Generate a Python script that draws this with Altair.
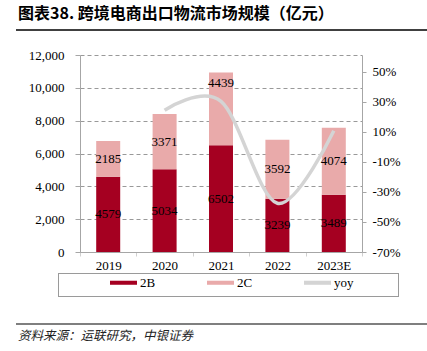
import altair as alt
import pandas as pd

# ---------------- data ----------------
years = ["2019", "2020", "2021", "2022", "2023E"]
b2b = [4579, 5034, 6502, 3239, 3489]
b2c = [2185, 3371, 4439, 3592, 4074]
yoy_years = ["2020", "2021", "2022", "2023E"]
yoy = [0.243, 0.302, -0.376, 0.107]
series_names = ["2B", "2C", "yoy"]
series_colors = ["#A50021", "#E9AAAA", "#D4D4D4"]
left_ticks = [0, 2000, 4000, 6000, 8000, 10000, 12000]
right_ticks = [-0.7, -0.5, -0.3, -0.1, 0.1, 0.3, 0.5]
title_text = "图表38. 跨境电商出口物流市场规模（亿元）"
source_text = "资料来源：运联研究，中银证券"

bars_df = pd.DataFrame({
    "year": years * 2,
    "series": ["2B"] * len(years) + ["2C"] * len(years),
    "value": b2b + b2c,
    "order": [0] * len(years) + [1] * len(years),
})
line_df = pd.DataFrame({"year": yoy_years, "yoy": yoy})
deco_df = pd.DataFrame({"title": [title_text], "source": [source_text]})

SERIF = "Liberation Serif"
AX = "#A6A6A6"

x_enc = alt.X(
    "year:N", sort=years,
    scale=alt.Scale(paddingInner=0, paddingOuter=0),
    axis=alt.Axis(title=None, labelAngle=0, tickBand="extent", tickSize=4,
                  tickColor="#D0D0D0", domainColor=AX, labelFont=SERIF,
                  labelFontSize=13, labelColor="black", labelPadding=3, grid=False),
)
left_scale = alt.Scale(domain=[0, 12000], nice=False)

bars = alt.Chart(bars_df).mark_bar(size=24).encode(
    x=x_enc,
    y=alt.Y("value:Q", stack="zero", scale=left_scale,
            axis=alt.Axis(title=None, orient="left", values=left_ticks,
                          labelExpr="format(datum.value, ',')",
                          grid=True, gridDash=[4, 3], gridColor="#999999",
                          domainColor=AX, tickColor=AX, tickSize=5,
                          labelPadding=11, labelFont=SERIF, labelFontSize=13,
                          labelColor="black")),
    color=alt.Color(
        "series:N",
        scale=alt.Scale(domain=series_names, range=series_colors),
        legend=alt.Legend(
            title=None, orient="none", legendX=30, legendY=214,
            direction="horizontal", columns=3, padding=0,
            symbolType="M-1,-0.15H1V0.15H-1Z", symbolSize=729,
            symbolStrokeWidth=0, labelFont=SERIF, labelFontSize=13,
            labelColor="black", labelOffset=3, columnPadding=51,
        ),
    ),
    order=alt.Order("order:Q"),
)

stacked = alt.Chart(bars_df).transform_stack(
    stack="value", groupby=["year"], as_=["y0", "y1"],
    sort=[alt.SortField("order", order="ascending")],
).transform_calculate(mid="(datum.y0 + datum.y1) / 2")

labels = stacked.transform_filter(
    "!(datum.year == '2021' && datum.series == '2C')"
).mark_text(font=SERIF, fontSize=13, color="black").encode(
    x=x_enc,
    y=alt.Y("mid:Q", scale=left_scale, axis=None),
    text=alt.Text("value:Q", format="d"),
)
label_top = stacked.transform_filter(
    "datum.year == '2021' && datum.series == '2C'"
).mark_text(font=SERIF, fontSize=13, color="black", baseline="top", dy=5).encode(
    x=x_enc,
    y=alt.Y("y1:Q", scale=left_scale, axis=None),
    text=alt.Text("value:Q", format="d"),
)

line = alt.Chart(line_df).mark_line(
    interpolate="cardinal", color=series_colors[2], strokeWidth=3.5
).encode(
    x=x_enc,
    y=alt.Y("yoy:Q", scale=alt.Scale(domain=[-0.7, 0.61], nice=False, zero=False),
            axis=alt.Axis(title=None, orient="right", values=right_ticks,
                          labelExpr="round(datum.value * 100) + '%'", grid=False,
                          domainColor=AX, tickColor=AX, tickSize=4, labelPadding=6,
                          labelFont=SERIF, labelFontSize=13, labelColor="black")),
)

title = alt.Chart(deco_df).mark_text(
    align="left", baseline="middle", font="Noto Sans CJK SC", fontWeight="bold",
    fontSize=16, color="black"
).encode(x=alt.value(-62), y=alt.value(-41), text="title:N")

title_rule = alt.Chart(deco_df).mark_rule(color="#000000", strokeWidth=1.5).encode(
    x=alt.value(-64), x2=alt.value(347), y=alt.value(-25))

BOX = "#9A9A9A"
box_top = alt.Chart(deco_df).mark_rule(color=BOX, strokeWidth=1).encode(
    x=alt.value(-22), x2=alt.value(319), y=alt.value(218.5))
box_bottom = alt.Chart(deco_df).mark_rule(color=BOX, strokeWidth=1).encode(
    x=alt.value(-22), x2=alt.value(319), y=alt.value(241.5))
box_left = alt.Chart(deco_df).mark_rule(color=BOX, strokeWidth=1).encode(
    x=alt.value(-21.5), y=alt.value(218), y2=alt.value(242))
box_right = alt.Chart(deco_df).mark_rule(color=BOX, strokeWidth=1).encode(
    x=alt.value(318.5), y=alt.value(218), y2=alt.value(242))

foot_rule = alt.Chart(deco_df).mark_rule(color="#7F7F7F", strokeWidth=2).encode(
    x=alt.value(-64), x2=alt.value(347), y=alt.value(269))

source = alt.Chart(deco_df).mark_text(
    align="left", baseline="middle", font="Noto Sans CJK SC", fontStyle="italic",
    fontSize=12.5, color="#222222"
).encode(x=alt.value(-62), y=alt.value(281), text="source:N")

chart = alt.layer(
    bars, line, labels, label_top,
    title, title_rule, foot_rule, source,
    box_top, box_bottom, box_left, box_right,
).resolve_scale(y="independent").properties(
    width=282, height=197,
    autosize=alt.AutoSizeParams(type="none"),
    padding={"left": 80, "top": 55, "right": 65, "bottom": 99},
    background="white",
).configure_view(stroke=None)

chart.save("out.html", embed_options={"renderer": "svg", "actions": False})
